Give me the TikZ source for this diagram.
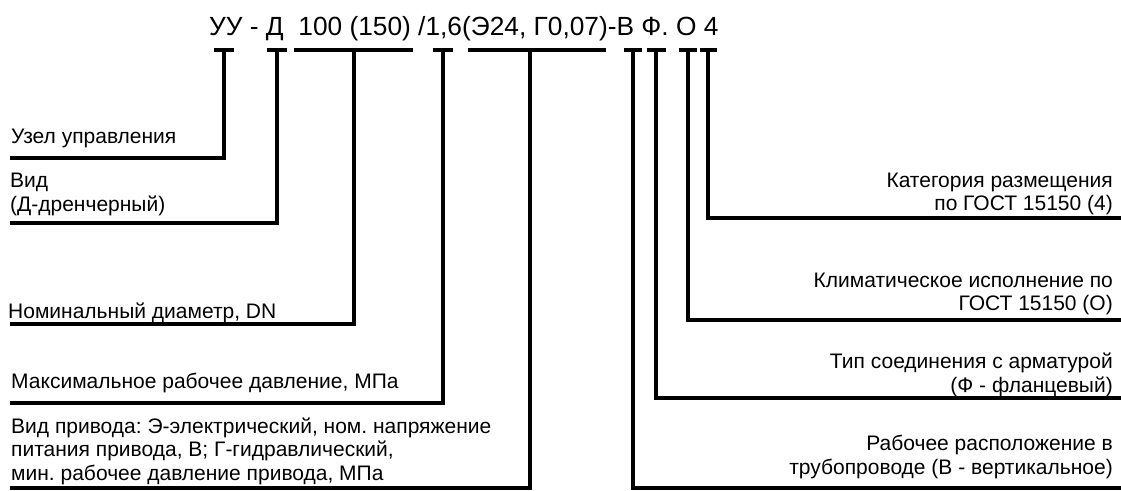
\documentclass[tikz,border=0pt]{standalone}
\usepackage{fontspec}
\setmainfont{Liberation Sans}
\frenchspacing
\begin{document}
\begin{tikzpicture}[x=1pt,y=-1pt,
  lbl/.style={inner sep=0pt, font=\fontsize{21}{23.5}\selectfont, align=left, anchor=base west},
  rlbl/.style={inner sep=0pt, font=\fontsize{21}{23.5}\selectfont, align=right, anchor=base east},
  conn/.style={line width=3.5pt, line cap=butt, line join=miter}]
\useasboundingbox (0,0) rectangle (1121,490);
% title
\node[anchor=base west, inner sep=0pt, font=\fontsize{26.3}{30}\selectfont] (title) at (209,35)
  {УУ - Д\ \ 100 (150) /1,6(Э24, Г0,07)-В Ф. О 4};
% bracket tops
\coordinate (b1) at (224,50);
\coordinate (b2) at (277,50);
\coordinate (b3) at (354,50);
\coordinate (b4) at (443,50);
\coordinate (b5) at (530,50);
\coordinate (b6) at (633,50);
\coordinate (b7) at (656,50);
\coordinate (b8) at (688,50);
\coordinate (b9) at (708,50);
% line ends
\coordinate (c1) at (10,158);
\coordinate (c2) at (10,223);
\coordinate (c3) at (10,324);
\coordinate (c4) at (10,403);
\coordinate (c5) at (10,488);
\coordinate (c6) at (1121,488);
\coordinate (c7) at (1121,398);
\coordinate (c8) at (1121,320);
\coordinate (c9) at (1121,218);
% labels left (base = last line)
\node[lbl] (t1) at (11,143) {Узел управления};
\node[lbl] (t2) at (10,211) {Вид\\(Д-дренчерный)};
\node[lbl] (t3) at (8,318) {Номинальный диаметр, DN};
\node[lbl] (t4) at (11,388) {Максимальное рабочее давление, МПа};
\node[lbl] (t5) at (11,480) {Вид привода: Э-электрический, ном. напряжение\\питания привода, В; Г-гидравлический,\\мин. рабочее давление привода, МПа};
% labels right
\node[rlbl] (t9) at (1113,210.5) {Категория размещения\\по ГОСТ 15150 (4)};
\node[rlbl] (t8) at (1113,310.5) {Климатическое исполнение по\\ГОСТ 15150 (О)};
\node[rlbl] (t7) at (1113,392) {Тип соединения с арматурой\\(Ф - фланцевый)};
\node[rlbl] (t6) at (1113,474) {Рабочее расположение в\\трубопроводе (В - вертикальное)};
% bars
\draw[conn] ([xshift=-10pt]b1) -- ([xshift=10pt]b1);
\draw[conn] ([xshift=-10pt]b2) -- ([xshift=10pt]b2);
\draw[conn] ([xshift=-60pt]b3) -- ([xshift=59pt]b3);
\draw[conn] ([xshift=-10pt]b4) -- ([xshift=10pt]b4);
\draw[conn] ([xshift=-62pt]b5) -- ([xshift=76pt]b5);
\draw[conn] ([xshift=-9pt]b6) -- ([xshift=9pt]b6);
\draw[conn] ([xshift=-9pt]b7) -- ([xshift=10pt]b7);
\draw[conn] ([xshift=-9pt]b8) -- ([xshift=9pt]b8);
\draw[conn] ([xshift=-8pt]b9) -- ([xshift=9pt]b9);
% connectors
\foreach \i in {1,...,9} {
  \draw[conn] (b\i) -- (b\i |- c\i) -- (c\i);
}
\end{tikzpicture}
\end{document}
